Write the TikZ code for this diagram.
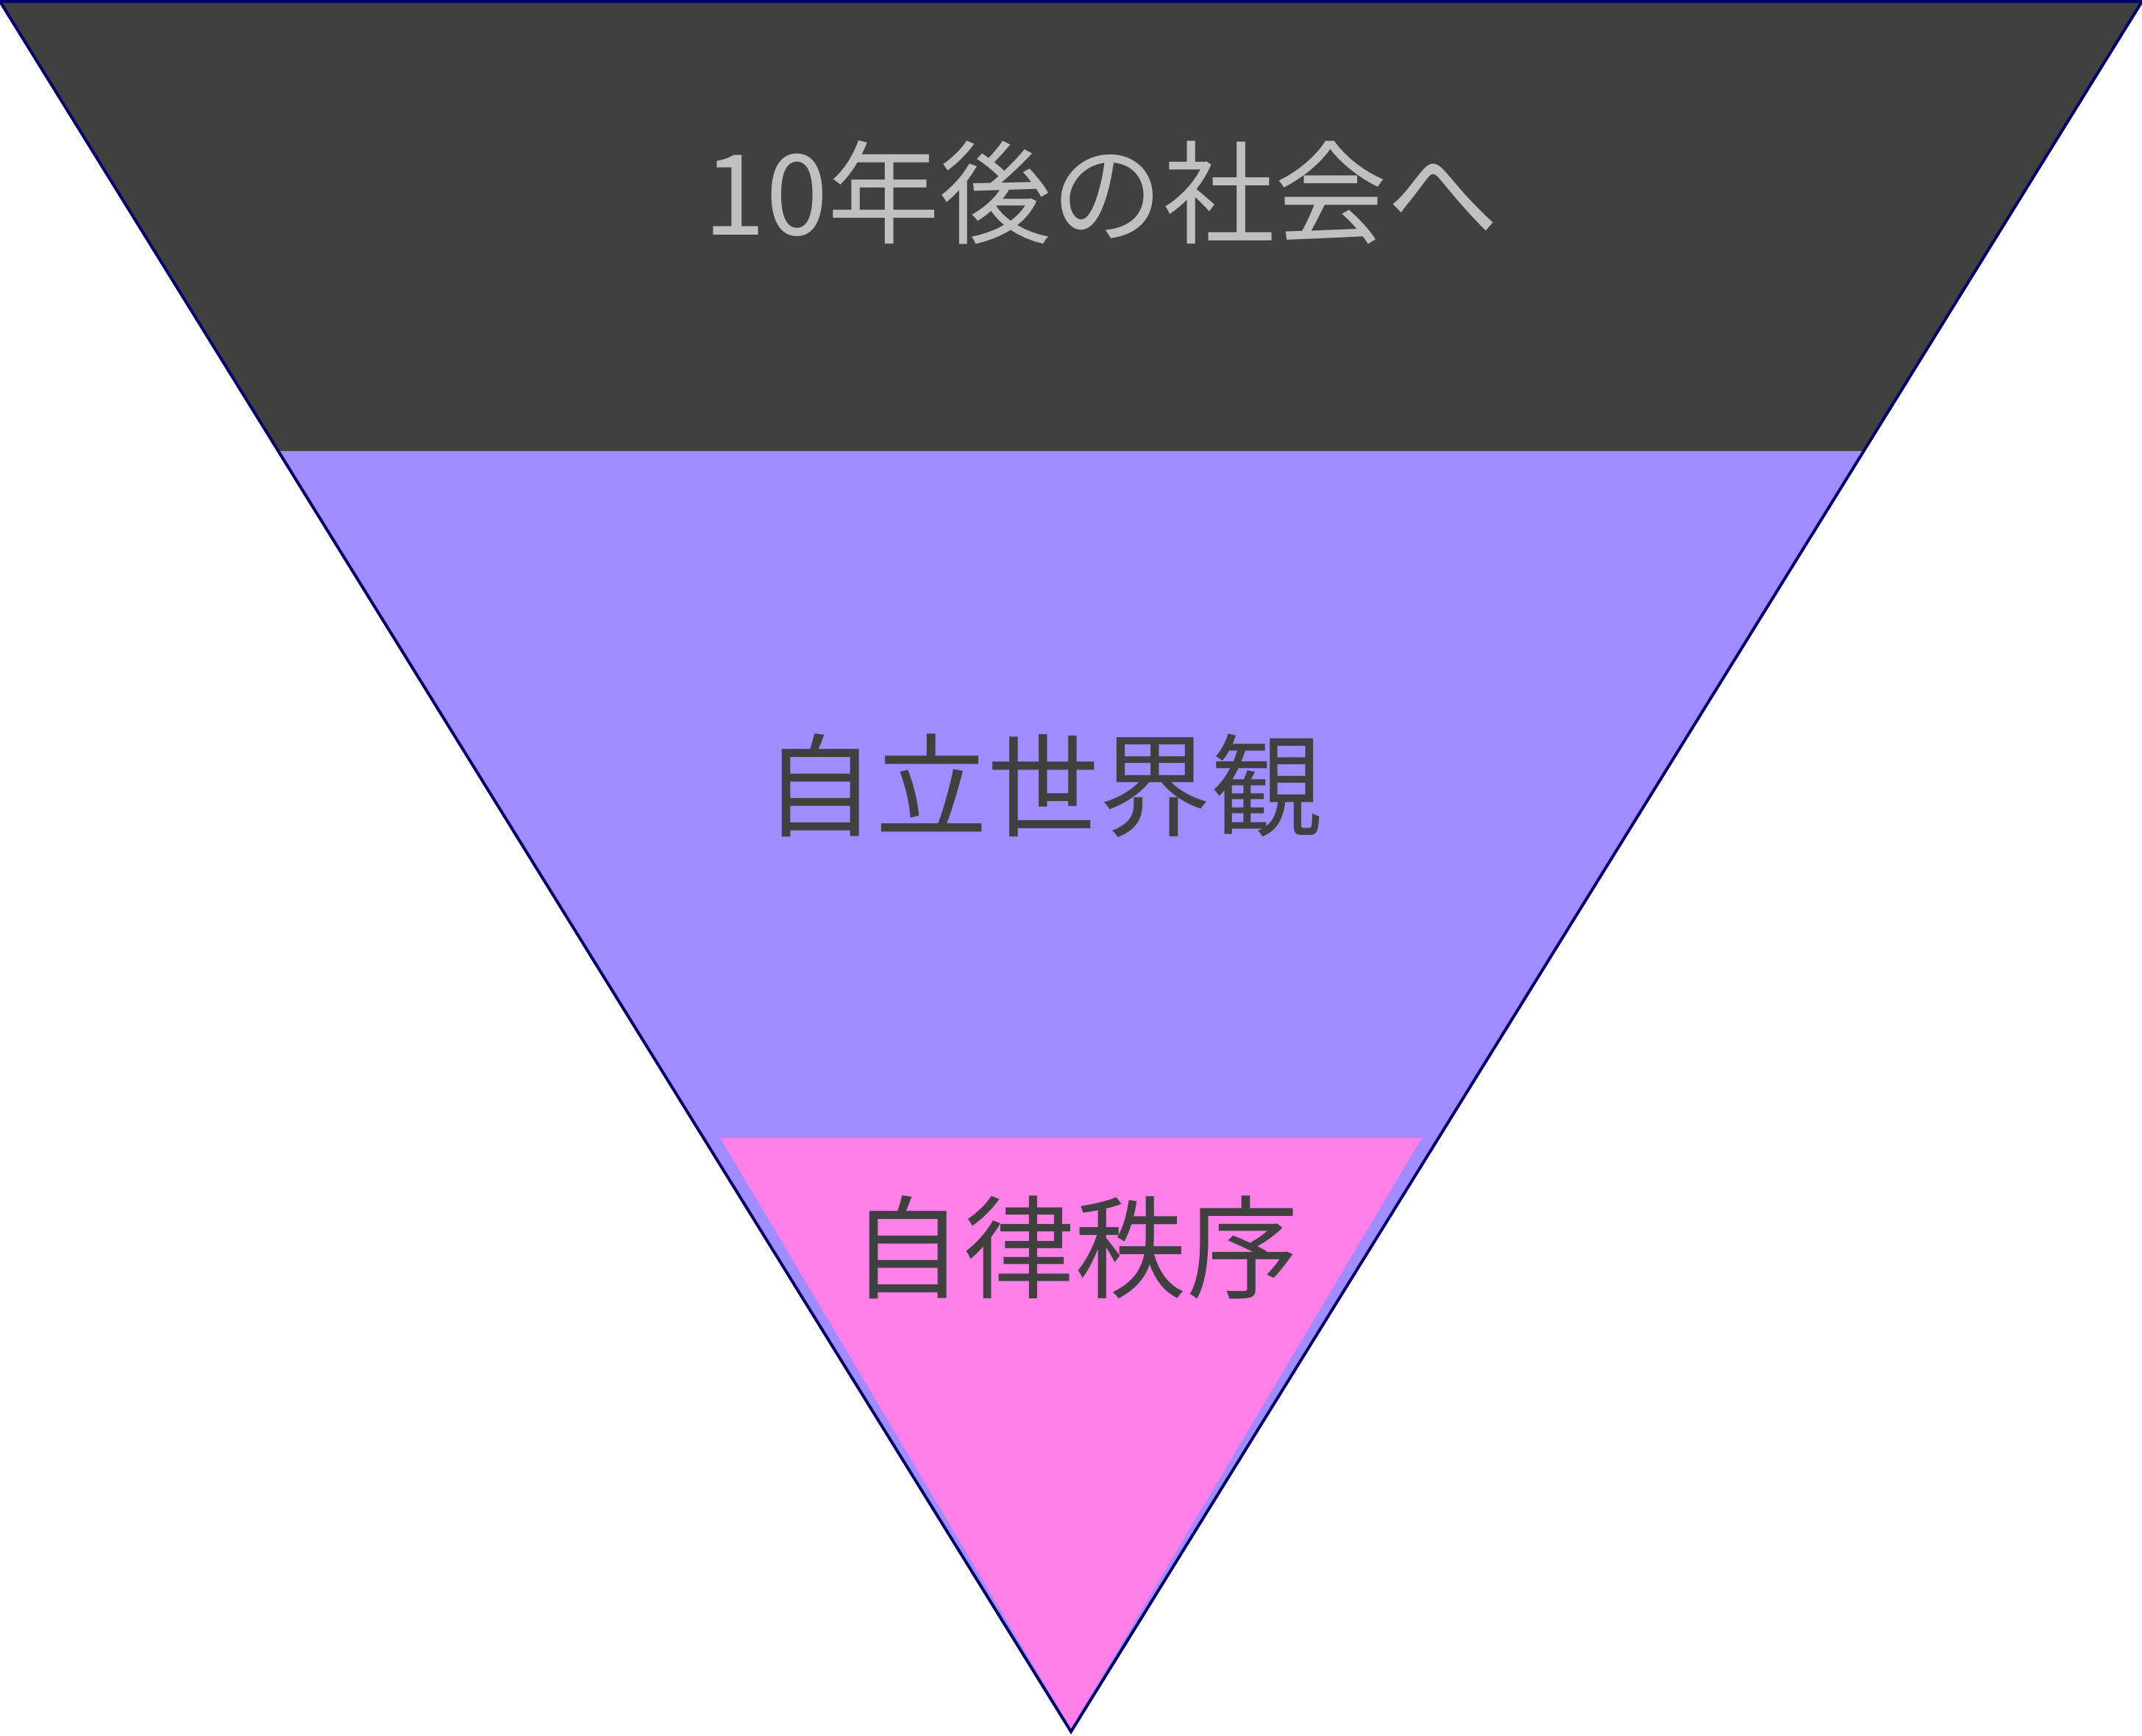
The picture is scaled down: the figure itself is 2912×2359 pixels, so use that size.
\documentclass[tikz,border=0pt]{standalone}
\usepackage{fontspec}
\newfontfamily\cjk{Noto Sans CJK JP}
\definecolor{bandDark}{HTML}{404040}
\definecolor{bandPurple}{HTML}{A08CFF}
\definecolor{bandPink}{HTML}{FF80E8}
\definecolor{outlineNavy}{HTML}{000066}
\definecolor{lightText}{HTML}{C0C0C0}
\definecolor{darkText}{HTML}{404040}
\tikzset{
  label text/.style={font=\cjk\fontsize{38}{41}\selectfont, inner sep=0pt, anchor=center},
}
\begin{document}
\begin{tikzpicture}[x=0.25pt,y=-0.25pt]
\useasboundingbox (0,0) rectangle (2912,2359);
% corner coordinates
\coordinate (tl) at (0,2);
\coordinate (tr) at (2912,2);
\coordinate (apex) at (1456,2354);
\coordinate (bl) at (379,613);
\coordinate (br) at (2533,613);
\coordinate (pl) at (979,1547);
\coordinate (pr) at (1933,1547);
\coordinate (papex) at (1456,2350);
% fills
\fill[bandPurple] (tl) -- (tr) -- (apex) -- cycle;
\fill[bandDark] (tl) -- (tr) -- (br) -- (bl) -- cycle;
\fill[bandPink] (pl) -- (pr) -- (papex) -- cycle;
% outline
\draw[outlineNavy, line width=1pt, line join=miter] (tl) -- (tr) -- (apex) -- cycle;
% labels
\node[label text, text=lightText] (top) at (1497,262) {10年後の社会へ};
\node[label text, text=darkText] (mid) at (1418,1068) {自立世界観};
\node[label text, text=darkText] (bot) at (1461,1696) {自律秩序};
\end{tikzpicture}
\end{document}
